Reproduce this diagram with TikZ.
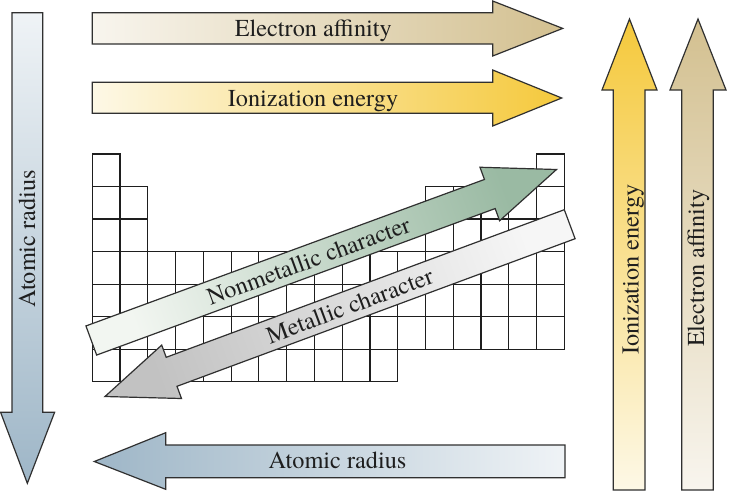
\documentclass[tikz,border=0pt]{standalone}
\usepackage{fontspec}
\setmainfont{texgyretermes}[Extension=.otf, UprightFont=*-regular, BoldFont=*-bold, ItalicFont=*-italic, BoldItalicFont=*-bolditalic]
\definecolor{outl}{HTML}{303030}
\definecolor{gridc}{HTML}{1E1E1E}
\definecolor{txt}{HTML}{1E1E1E}
\definecolor{tanL}{HTML}{F8F5EE}
\definecolor{tanD}{HTML}{D3C090}
\definecolor{goldL}{HTML}{FDF8E6}
\definecolor{goldD}{HTML}{F5C93C}
\definecolor{blueL}{HTML}{EFF3F6}
\definecolor{blueD}{HTML}{9EB6C7}
\definecolor{greenL}{HTML}{F2F6F1}
\definecolor{greenD}{HTML}{9ABAA3}
\definecolor{grayL}{HTML}{F6F6F6}
\definecolor{grayD}{HTML}{C2C2C2}
\tikzset{
  arr/.style={draw=outl, line width=1.2pt, line join=miter},
  cell/.style={draw=gridc, line width=1.2pt},
  lbl/.style={font=\fontsize{24.3}{28}\selectfont, text=txt, inner sep=0pt},
}
\begin{document}
\begin{tikzpicture}[x=1pt,y=-1pt]
\useasboundingbox (0,0) rectangle (730,499);
\fill[white] (0,0) rectangle (730,499);

% periodic table grid
\def\cw{27.76}
\def\ch{32.53}
\foreach \c in {0,16}
  \draw[cell] ({92.3+\c*\cw},154) rectangle ++(\cw,\ch);
\foreach \r in {1,2}
  \foreach \c in {0,1,12,13,14,15,16}
    \draw[cell] ({92.3+\c*\cw},{154+\r*\ch}) rectangle ++(\cw,\ch);
\foreach \r in {3,4,5}
  \foreach \c in {0,...,16}
    \draw[cell] ({92.3+\c*\cw},{154+\r*\ch}) rectangle ++(\cw,\ch);
\foreach \c in {0,...,10}
  \draw[cell] ({92.3+\c*\cw},{154+6*\ch}) rectangle ++(\cw,\ch);

% top horizontal arrows
\path[arr, left color=tanL, right color=tanD]
  (92.3,12.7) -- (492.7,12.7) -- (492.7,1) -- (562.7,28.4) -- (492.7,56)
  -- (492.7,44) -- (92.3,44) -- cycle;
\path[arr, left color=goldL, right color=goldD]
  (92.3,82.3) -- (492.7,82.3) -- (492.7,70) -- (561.7,98) -- (492.7,126)
  -- (492.7,113.3) -- (92.3,113.3) -- cycle;

% left vertical arrow (down)
\path[arr, top color=blueL, bottom color=blueD]
  (12,12.7) -- (42.7,12.7) -- (42.7,412.3) -- (54.6,412.3) -- (27.35,483.3)
  -- (0.6,412.3) -- (12,412.3) -- cycle;

% bottom arrow (left)
\path[arr, left color=blueD, right color=blueL]
  (565,445) -- (165.7,445) -- (165.7,432.7) -- (94.3,461.5) -- (165.7,489.3)
  -- (165.7,477.7) -- (565,477.7) -- cycle;

% right vertical arrows (up)
\path[arr, bottom color=goldL, top color=goldD]
  (613.3,490) -- (613.3,90) -- (602,90) -- (629.5,19) -- (657,90)
  -- (645,90) -- (645,490) -- cycle;
\path[arr, bottom color=tanL, top color=tanD]
  (681.7,490) -- (681.7,90) -- (670,90) -- (698,19) -- (726,90)
  -- (713.3,90) -- (713.3,490) -- cycle;

% diagonal arrows
\path[arr, bottom color=greenL, top color=greenD, shading angle=-69.82]
  (85.95,325.95) -- (484.45,179.45) -- (479.97,167.25) -- (556.5,169.5)
  -- (499.6,220.75) -- (495.15,208.55) -- (96.65,355.05) -- cycle;
\path[arr, bottom color=grayL, top color=grayD, shading angle=110.34]
  (575.1,238.7) -- (177.0,386.3) -- (181.5,398.5) -- (105,396.5)
  -- (161.7,345.1) -- (166.2,357.3) -- (564.3,209.7) -- cycle;

% labels
\node[lbl, anchor=base] (ea) at (313.3,36.7) {Electron affinity};
\node[lbl, anchor=base] (ie) at (313,106.7) {Ionization energy};
\node[lbl, anchor=base] (ar) at (337.5,468.5) {Atomic radius};
\node[lbl, anchor=base, rotate=90] (arv) at (35,239) {Atomic radius};
\node[lbl, anchor=base, rotate=90] (iev) at (638.5,269.7) {Ionization energy};
\node[lbl, anchor=base, rotate=90] (eav) at (704,268.3) {Electron affinity};
\node[lbl, rotate=20.18] (nm) at (308.5,260.7) {Nonmetallic character};
\node[lbl, rotate=20.34] (mc) at (349.6,305.8) {Metallic character};
\end{tikzpicture}
\end{document}
